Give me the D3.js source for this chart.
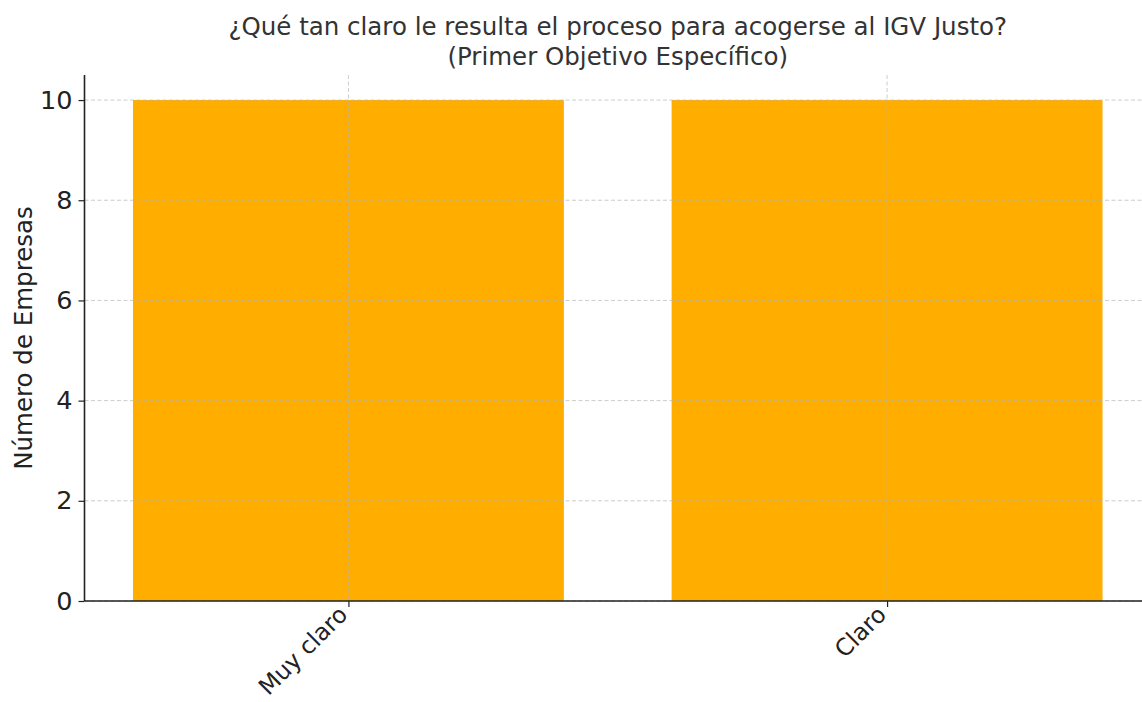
<!DOCTYPE html>
<html><head><meta charset="utf-8">
<script src="https://cdn.jsdelivr.net/npm/d3@7"></script>
<style>body{margin:0;background:#fff}svg{display:block}text{font-family:"DejaVu Sans",sans-serif}</style>
</head><body><svg id="c" width="1142" height="702"></svg>
<script>
const categories = ["Muy claro", "Claro"];
const values = [10, 10];
const yTicks = [0, 2, 4, 6, 8, 10];
const titleLines = ["¿Qué tan claro le resulta el proceso para acogerse al IGV Justo?", "(Primer Objetivo Específico)"];
const yLabel = "Número de Empresas";

const svg = d3.select("#c");
const L = 84.5, R = 1151, T = 75, B = 601;
const x = d3.scaleLinear().domain([-0.49, 1.49]).range([L, R]);
const y = d3.scaleLinear().domain([0, 10.5]).range([B, T]);
const bw = x(0.4) - x(-0.4);

svg.selectAll("rect.bar").data(values).enter().append("rect")
  .attr("x", (d, i) => x(i) - bw / 2).attr("width", bw)
  .attr("y", d => y(d)).attr("height", d => y(0) - y(d))
  .attr("fill", "#ffae00");

// grid
const g = svg.append("g");
g.selectAll("line.h").data(yTicks).enter().append("line")
  .attr("x1", L).attr("x2", R).attr("y1", d => y(d)).attr("y2", d => y(d))
  .attr("stroke", "#b0b0b0").attr("stroke-opacity", 0.65).attr("stroke-width", 1)
  .attr("stroke-dasharray", "4,2.5");
g.selectAll("line.v").data(categories).enter().append("line")
  .attr("x1", (d, i) => x(i)).attr("x2", (d, i) => x(i)).attr("y1", T).attr("y2", B)
  .attr("stroke", "#b0b0b0").attr("stroke-opacity", 0.65).attr("stroke-width", 1)
  .attr("stroke-dasharray", "4,2.5");

// axes
const ya = svg.append("g").attr("transform", `translate(${L},0)`)
  .call(d3.axisLeft(y).tickValues(yTicks).tickSize(6).tickPadding(6));
ya.select(".domain").attr("d", `M0,${T}V${B}`).attr("stroke", "#222").attr("stroke-width", 1.6);
ya.selectAll(".tick line").attr("stroke", "#222").attr("stroke-width", 1.2);
ya.selectAll(".tick text").attr("font-size", 25.5).attr("fill", "#222").attr("font-family", "DejaVu Sans");

const xa = svg.append("g").attr("transform", `translate(0,${B})`)
  .call(d3.axisBottom(x).tickValues([0, 1]).tickFormat((d) => categories[d]).tickSize(6).tickSizeOuter(0));
xa.select(".domain").attr("d", `M${L},0H${R}`).attr("stroke", "#222").attr("stroke-width", 1.6);
xa.selectAll(".tick line").attr("stroke", "#222").attr("stroke-width", 1.2);
xa.selectAll(".tick text").attr("font-size", 23.5).attr("fill", "#222").attr("font-family", "DejaVu Sans")
  .attr("text-anchor", "end").attr("dy", 0).attr("y", 0)
  .attr("transform", "translate(0,15) rotate(-45)");

// y label
svg.append("text").attr("transform", `translate(32,${(T + B) / 2}) rotate(-90)`)
  .attr("text-anchor", "middle").attr("font-size", 24.5).attr("fill", "#222").text(yLabel);

// title
svg.selectAll("text.title").data(titleLines).enter().append("text")
  .attr("x", (L + R) / 2).attr("y", (d, i) => 35 + i * 29.5)
  .attr("text-anchor", "middle").attr("font-size", 24.5).attr("fill", "#333").text(d => d);
</script></body></html>
